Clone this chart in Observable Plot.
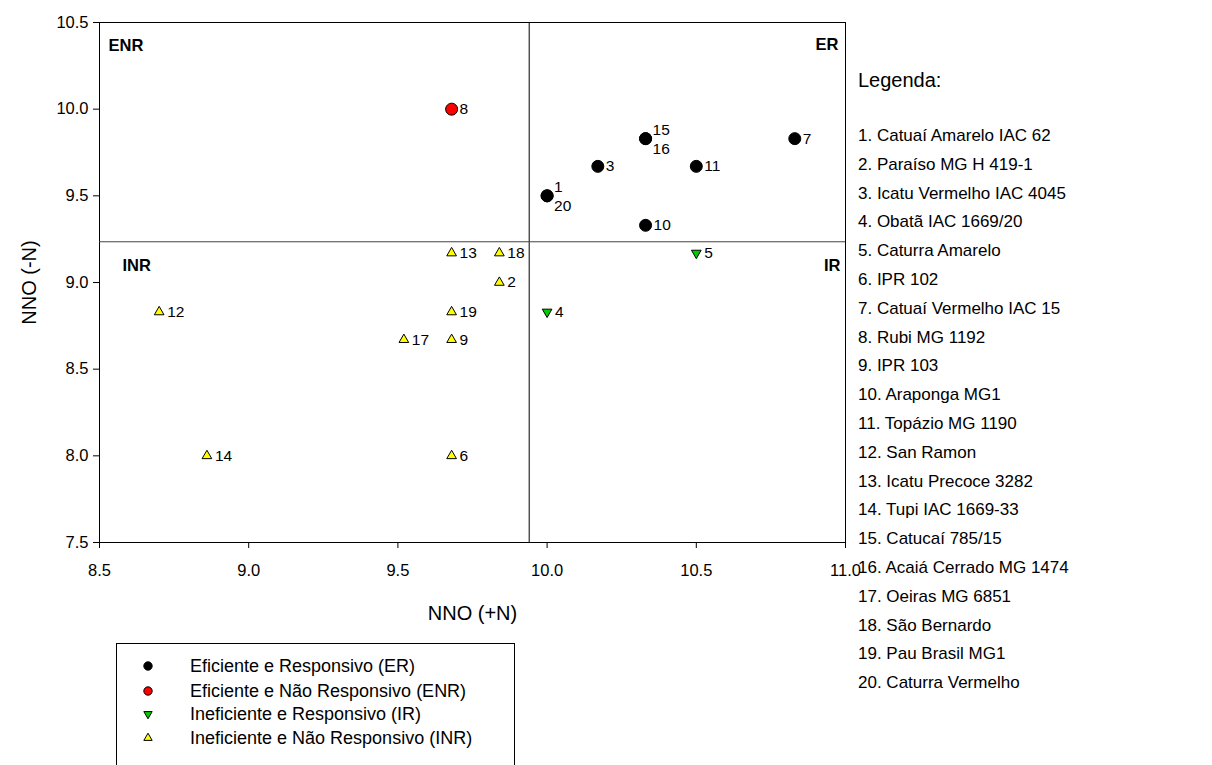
<!DOCTYPE html>
<html>
<head>
<meta charset="utf-8">
<script src="https://cdn.jsdelivr.net/npm/d3@7"></script>
<script src="https://cdn.jsdelivr.net/npm/@observablehq/plot@0.6"></script>
<style>
  html, body { margin: 0; padding: 0; background: #fff; }
  #wrap { position: relative; width: 1212px; height: 765px; overflow: hidden; font-family: "Liberation Sans", Arial, sans-serif; }
  #chart { position: absolute; left: 0; top: 0; }
  #legend-right { position: absolute; left: 858px; top: 68px; font-size: 17px; color: #000; }
  #legend-right .title { font-size: 20px; height: 24px; line-height: 24px; margin-bottom: 35px; }
  #legend-right .item { height: 28.8px; line-height: 18px; white-space: nowrap; }
  #legend-box { position: absolute; left: 116px; top: 643px; width: 399px; height: 140px; border: 1px solid #000; box-sizing: border-box; }
  #legend-box .row { position: absolute; left: 0; height: 20px; display: flex; align-items: center; font-size: 18px; white-space: nowrap; }
  #legend-box svg { margin-left: 25px; margin-right: 36px; }
</style>
</head>
<body>
<div id="wrap">
  <div id="chart"></div>
  <div id="legend-right"></div>
  <div id="legend-box"></div>
</div>
<script>
// ---- data ----
const ids      = [1, 2, 3, 4, 5, 6, 7, 8, 9, 10, 11, 12, 13, 14, 15, 16, 17, 18, 19, 20];
const nnoPlus  = [10.0, 9.84, 10.17, 10.0, 10.5, 9.68, 10.83, 9.68, 9.68, 10.33, 10.5, 8.7, 9.68, 8.86, 10.33, 10.33, 9.52, 9.84, 9.68, 10.0];
const nnoMinus = [9.5, 9.0, 9.67, 8.83, 9.17, 8.0, 9.83, 10.0, 8.67, 9.33, 9.67, 8.83, 9.17, 8.0, 9.83, 9.83, 8.67, 9.17, 8.83, 9.5];
const groups   = ["ER", "INR", "ER", "IR", "IR", "INR", "ER", "ENR", "INR", "ER", "ER", "INR", "INR", "INR", "ER", "ER", "INR", "INR", "INR", "ER"];
const cultivars = ["Catuaí Amarelo IAC 62", "Paraíso MG H 419-1", "Icatu Vermelho IAC 4045", "Obatã IAC 1669/20",
  "Caturra Amarelo", "IPR 102", "Catuaí Vermelho IAC 15", "Rubi MG 1192", "IPR 103", "Araponga MG1",
  "Topázio MG 1190", "San Ramon", "Icatu Precoce 3282", "Tupi IAC 1669-33", "Catucaí 785/15",
  "Acaiá Cerrado MG 1474", "Oeiras MG 6851", "São Bernardo", "Pau Brasil MG1", "Caturra Vermelho"];
const groupKeys   = ["ER", "ENR", "IR", "INR"];
const groupNames  = ["Eficiente e Responsivo (ER)", "Eficiente e Não Responsivo (ENR)", "Ineficiente e Responsivo (IR)", "Ineficiente e Não Responsivo (INR)"];
const groupColors = ["#000000", "#ff0000", "#00cc00", "#ffff00"];
const meanPlus  = 9.94;
const meanMinus = 9.235;
const xTicks = [8.5, 9.0, 9.5, 10.0, 10.5, 11.0];
const yTicks = [7.5, 8.0, 8.5, 9.0, 9.5, 10.0, 10.5];
const xTitle = "NNO (+N)";
const yTitle = "NNO (-N)";
const legendTitle = "Legenda:";

const pts = ids.map((id, i) => ({id, x: nnoPlus[i], y: nnoMinus[i], g: groups[i]}));
const above = new Set([1, 15]);
const below = new Set([16, 20]);
const plain = pts.filter(d => !above.has(d.id) && !below.has(d.id));

const fmt = d3.format(".1f");
const chart = Plot.plot({
  width: 1212,
  height: 765,
  marginLeft: 99,
  marginRight: 367,
  marginTop: 22,
  marginBottom: 223,
  style: {fontFamily: "Liberation Sans, Arial, sans-serif", fontSize: "16px", background: "white", color: "black"},
  x: {domain: [8.5, 11.0]},
  y: {domain: [7.5, 10.5]},
  color: {domain: groupKeys, range: groupColors},
  marks: [
    Plot.axisX({ticks: xTicks, tickFormat: fmt, tickSize: 6, tickPadding: 16, label: null, fontSize: 16.5}),
    Plot.axisY({ticks: yTicks, tickFormat: fmt, tickSize: 6, tickPadding: 5, label: null, fontSize: 16.5}),
    Plot.frame({stroke: "black", strokeWidth: 1}),
    Plot.ruleX([meanPlus], {stroke: "black", strokeWidth: 1}),
    Plot.ruleY([meanMinus], {stroke: "#444", strokeWidth: 1}),
    Plot.text([xTitle], {frameAnchor: "bottom", dy: 77, fontSize: 20, textAnchor: "middle"}),
    Plot.text([yTitle], {frameAnchor: "left", dx: -70, rotate: -90, fontSize: 20, textAnchor: "middle"}),
    Plot.text(["ENR"], {frameAnchor: "top-left", dx: 9, dy: 17, fontWeight: "bold", fontSize: 16.5, textAnchor: "start"}),
    Plot.text(["ER"], {frameAnchor: "top-right", dx: -7, dy: 16, fontWeight: "bold", fontSize: 16.5, textAnchor: "end"}),
    Plot.text(["INR"], {y: [meanMinus], frameAnchor: "left", dx: 23, dy: 24, fontWeight: "bold", fontSize: 16.5, textAnchor: "start"}),
    Plot.text(["IR"], {y: [meanMinus], frameAnchor: "right", dx: -5, dy: 24, fontWeight: "bold", fontSize: 16.5, textAnchor: "end"}),
    Plot.dot(pts.filter(d => d.g === "ER" || d.g === "ENR"), {x: "x", y: "y", fill: "g", stroke: "black", strokeWidth: 1, r: 6, symbol: "circle"}),
    Plot.dot(pts.filter(d => d.g === "INR"), {x: "x", y: "y", fill: "g", stroke: "black", strokeWidth: 1, r: 3.6, symbol: "triangle"}),
    Plot.dot(pts.filter(d => d.g === "IR"), {x: "x", y: "y", fill: "g", stroke: "black", strokeWidth: 1, r: 3.6, symbol: "triangle", rotate: 180}),
    Plot.text(plain, {x: "x", y: "y", text: "id", dx: 8, textAnchor: "start", fontSize: 15.5}),
    Plot.text(pts.filter(d => above.has(d.id)), {x: "x", y: "y", text: "id", dx: 7, dy: -9, textAnchor: "start", fontSize: 15.5}),
    Plot.text(pts.filter(d => below.has(d.id)), {x: "x", y: "y", text: "id", dx: 7, dy: 10, textAnchor: "start", fontSize: 15.5})
  ]
});
document.getElementById("chart").appendChild(chart);

// right legend
const lr = document.getElementById("legend-right");
const t = document.createElement("div"); t.className = "title"; t.textContent = legendTitle; lr.appendChild(t);
ids.forEach((id, i) => {
  const d = document.createElement("div"); d.className = "item"; d.textContent = id + ". " + cultivars[i]; lr.appendChild(d);
});

// bottom legend box
const lb = document.getElementById("legend-box");
const rowTops = [12, 37, 60, 84];
groupKeys.forEach((k, i) => {
  const row = document.createElement("div"); row.className = "row"; row.style.top = rowTops[i] + "px";
  const svg = d3.create("svg").attr("width", 12).attr("height", 12);
  const isTri = k === "IR" || k === "INR";
  const sym = d3.symbol(isTri ? d3.symbolTriangle : d3.symbolCircle, isTri ? 30 : 55)();
  svg.append("path").attr("d", sym).attr("transform", "translate(6,6)" + (k === "IR" ? " rotate(180)" : ""))
    .attr("fill", groupColors[i]).attr("stroke", "black").attr("stroke-width", 1);
  row.appendChild(svg.node());
  const span = document.createElement("span"); span.textContent = groupNames[i]; row.appendChild(span);
  lb.appendChild(row);
});
</script>
</body>
</html>
